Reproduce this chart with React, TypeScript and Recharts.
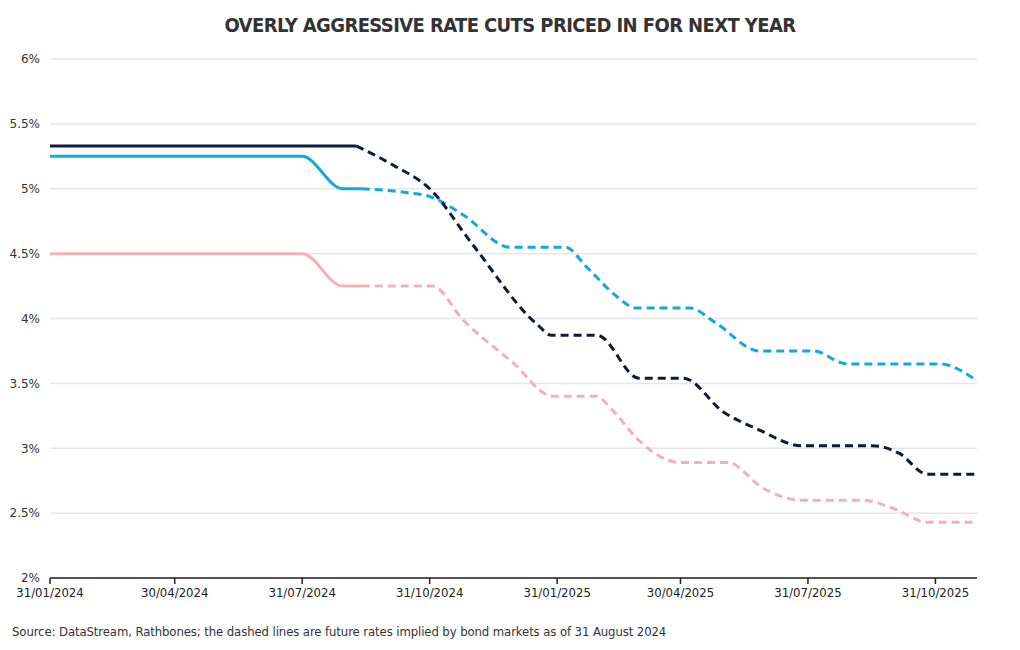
import React from 'react';
import { LineChart, Line, XAxis, YAxis, CartesianGrid } from 'recharts';

// Actual (solid) and bond-market implied (dashed) policy rates, %
const usActualDates = ['2024-01-31', '2024-07-31', '2024-09-08'];
const usActualValues = [5.33, 5.33, 5.33];
const usImpliedDates = [
  '2024-09-08', '2024-10-05', '2024-10-31', '2024-12-01', '2025-01-17', '2025-01-27',
  '2025-03-01', '2025-03-31', '2025-05-02', '2025-05-31', '2025-06-26', '2025-07-26',
  '2025-09-15', '2025-10-05', '2025-10-25', '2025-11-30',
];
const usImpliedValues = [
  5.33, 5.18, 5.0, 4.57, 3.95, 3.87,
  3.87, 3.54, 3.54, 3.28, 3.14, 3.02,
  3.02, 2.96, 2.8, 2.8,
];

const ukActualDates = ['2024-01-31', '2024-07-31', '2024-08-29', '2024-09-12'];
const ukActualValues = [5.25, 5.25, 5.0, 5.0];
const ukImpliedDates = [
  '2024-09-12', '2024-10-15', '2024-10-31', '2024-11-24', '2024-12-28', '2025-02-06',
  '2025-02-21', '2025-03-15', '2025-03-29', '2025-05-07', '2025-05-25', '2025-06-26',
  '2025-08-04', '2025-08-28', '2025-11-03', '2025-11-30',
];
const ukImpliedValues = [
  5.0, 4.97, 4.94, 4.8, 4.55, 4.55,
  4.4, 4.17, 4.08, 4.08, 3.97, 3.75,
  3.75, 3.65, 3.65, 3.52,
];

const euActualDates = ['2024-01-31', '2024-07-31', '2024-08-29', '2024-09-12'];
const euActualValues = [4.5, 4.5, 4.25, 4.25];
const euImpliedDates = [
  '2024-09-12', '2024-11-02', '2024-11-24', '2024-12-30', '2025-01-28', '2025-02-28',
  '2025-03-13', '2025-03-31', '2025-04-30', '2025-06-03', '2025-06-29', '2025-07-26',
  '2025-09-08', '2025-10-02', '2025-10-25', '2025-11-30',
];
const euImpliedValues = [
  4.25, 4.25, 3.99, 3.66, 3.4, 3.4,
  3.28, 3.06, 2.89, 2.89, 2.69, 2.6,
  2.6, 2.53, 2.43, 2.43,
];

const xTickDates = [
  '2024-01-31', '2024-04-30', '2024-07-31', '2024-10-31',
  '2025-01-31', '2025-04-30', '2025-07-31', '2025-10-31',
];
const yTicks = [2, 2.5, 3, 3.5, 4, 4.5, 5, 5.5, 6];

const toTime = (s: string) => {
  const [y, m, d] = s.split('-').map(Number);
  return Date.UTC(y, m - 1, d);
};

const build = (dates: string[], values: number[]) =>
  dates.map((d, i) => ({ t: toTime(d), v: values[i] }));

const fmtDate = (t: number) => {
  const d = new Date(t);
  const dd = String(d.getUTCDate()).padStart(2, '0');
  const mm = String(d.getUTCMonth() + 1).padStart(2, '0');
  return `${dd}/${mm}/${d.getUTCFullYear()}`;
};

const NAVY = '#0c1b3d';
const BLUE = '#12a8e0';
const PINK = '#f1b1bb';
const narrow = '"Liberation Sans Narrow", "DejaVu Sans Condensed", Roboto, sans-serif';

const series = [
  { key: 'eu', color: PINK, actual: build(euActualDates, euActualValues), implied: build(euImpliedDates, euImpliedValues) },
  { key: 'uk', color: BLUE, actual: build(ukActualDates, ukActualValues), implied: build(ukImpliedDates, ukImpliedValues) },
  { key: 'us', color: NAVY, actual: build(usActualDates, usActualValues), implied: build(usImpliedDates, usImpliedValues) },
];

export default function App() {
  return (
    <div style={{ position: 'absolute', left: 0, top: 0, width: 1020, height: 650, background: '#fff' }}>
      <div
        style={{
          position: 'absolute', top: 13, left: 0, width: 1020, textAlign: 'center',
          fontFamily: narrow, fontWeight: 700, fontSize: 20, letterSpacing: -0.6, color: '#333',
        }}
      >
        OVERLY AGGRESSIVE RATE CUTS PRICED IN FOR NEXT YEAR
      </div>
      <LineChart
        width={1020}
        height={650}
        margin={{ top: 59, right: 43, left: 0, bottom: 42 }}
        style={{ position: 'absolute', left: 0, top: 0 }}
      >
        <CartesianGrid vertical={false} stroke="#e6e6e6" strokeWidth={1.5} />
        <XAxis
          dataKey="t"
          type="number"
          scale="time"
          domain={[toTime('2024-01-31'), toTime('2025-11-30')]}
          ticks={xTickDates.map(toTime)}
          tickFormatter={fmtDate}
          allowDataOverflow
          axisLine={{ stroke: '#222', strokeWidth: 1.5 }}
          tickLine={{ stroke: '#222', strokeWidth: 1.5 }}
          tickSize={6}
          tickMargin={4}
          height={30}
          tick={{ fontSize: 13, fill: '#222', fontFamily: narrow }}
        />
        <YAxis
          type="number"
          domain={[2, 6]}
          ticks={yTicks}
          tickFormatter={(v: number) => `${v}%`}
          axisLine={false}
          tickLine={false}
          tickSize={0}
          tickMargin={10}
          width={50}
          tick={{ fontSize: 12, fill: '#333', fontFamily: '"DejaVu Sans", sans-serif' }}
        />
        {series.map((s) => (
          <Line
            key={`${s.key}-a`}
            data={s.actual}
            dataKey="v"
            type="monotone"
            stroke={s.color}
            strokeWidth={3}
            dot={false}
            activeDot={false}
            isAnimationActive={false}
          />
        ))}
        {series.map((s) => (
          <Line
            key={`${s.key}-i`}
            data={s.implied}
            dataKey="v"
            type="monotone"
            stroke={s.color}
            strokeWidth={3}
            strokeDasharray="8 5"
            dot={false}
            activeDot={false}
            isAnimationActive={false}
          />
        ))}
      </LineChart>
      <div
        style={{
          position: 'absolute', top: 624, left: 12, fontFamily: narrow,
          fontSize: 13, letterSpacing: -0.1, color: '#333',
        }}
      >
        Source: DataStream, Rathbones; the dashed lines are future rates implied by bond markets as of 31 August 2024
      </div>
    </div>
  );
}
